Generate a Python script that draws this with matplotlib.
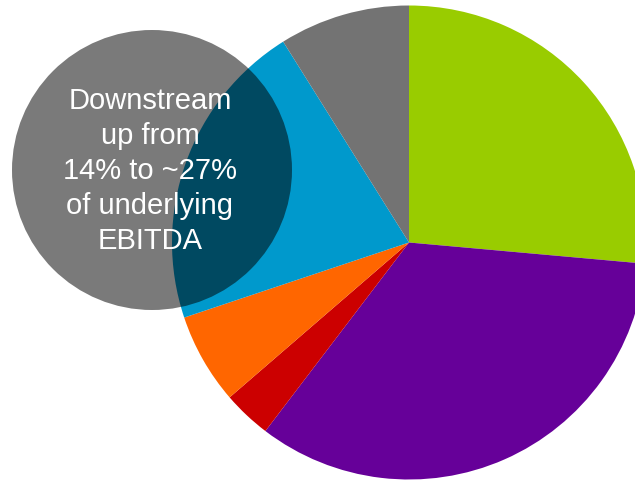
import matplotlib.pyplot as plt
from matplotlib.patches import Circle

# EBITDA split by segment (share of total, %)
segments = ['Downstream', 'Segment B', 'Segment C', 'Segment D', 'Segment E', 'Other']
shares = [26.4, 33.9, 3.3, 6.2, 21.2, 8.9]
colors = ['#99cc00', '#660099', '#cc0000', '#ff6600', '#0099cc', '#737373']

callout = 'Downstream\nup from\n14% to ~27%\nof underlying\nEBITDA'


def main():
    fig = plt.figure(figsize=(6.35, 4.8), dpi=100)
    ax = fig.add_axes([0, 0, 1, 1])

    ax.pie(shares, colors=colors, startangle=90, counterclock=False,
           center=(409, 237.5), radius=237, frame=True,
           wedgeprops={'linewidth': 0})
    ax.set_xlim(0, 635)
    ax.set_ylim(0, 480)
    ax.set_aspect('equal')
    ax.axis('off')

    # translucent callout bubble over the left of the pie
    ax.add_patch(Circle((152, 310), 140, facecolor='black', alpha=0.52,
                        edgecolor='none', zorder=5))
    ax.text(150, 309, callout, ha='center', va='center', color='white',
            fontsize=21, family='Liberation Sans', linespacing=1.32, zorder=6)

    fig.savefig('out.png', dpi=100)


if __name__ == '__main__':
    main()
